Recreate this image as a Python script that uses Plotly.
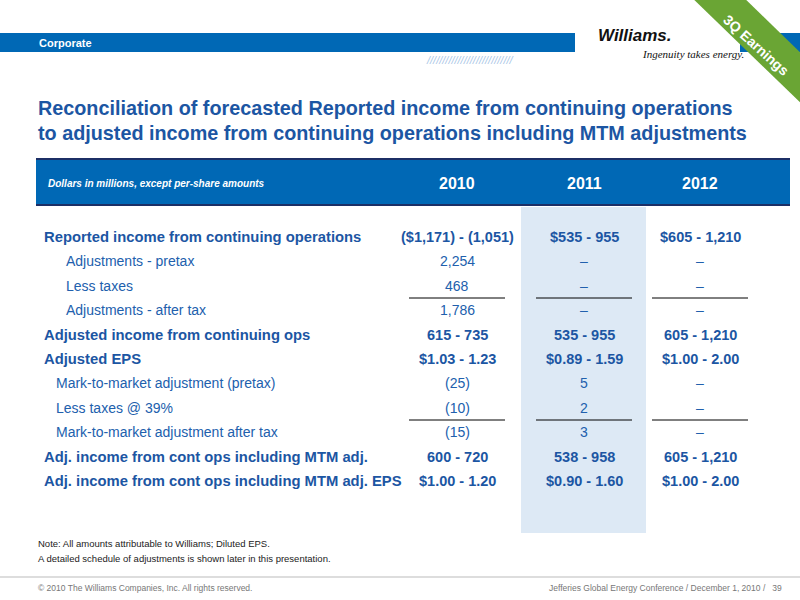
import plotly.graph_objects as go

years = ["2010", "2011", "2012"]
row_labels = [
    "Reported income from continuing operations",
    "Adjustments - pretax",
    "Less taxes",
    "Adjustments - after tax",
    "Adjusted income from continuing ops",
    "Adjusted EPS",
    "Mark-to-market adjustment (pretax)",
    "Less taxes @ 39%",
    "Mark-to-market adjustment after tax",
    "Adj. income from cont ops including MTM adj.",
    "Adj. income from cont ops including MTM adj. EPS",
]
row_bold = [True, False, False, False, True, True, False, False, False, True, True]
row_indent = [0, 22, 22, 22, 0, 0, 12, 12, 12, 0, 0]
vals_2010 = ["($1,171) - (1,051)", "2,254", "468", "1,786", "615 - 735", "$1.03 - 1.23",
             "(25)", "(10)", "(15)", "600 - 720", "$1.00 - 1.20"]
vals_2011 = ["$535 - 955", "–", "–", "–", "535 - 955", "$0.89 - 1.59",
             "5", "2", "3", "538 - 958", "$0.90 - 1.60"]
vals_2012 = ["$605 - 1,210", "–", "–", "–", "605 - 1,210", "$1.00 - 2.00",
             "–", "–", "–", "605 - 1,210", "$1.00 - 2.00"]
underline_after = [2, 7]

BLUE = "#0068b5"
DARK = "#1c56a3"
TXT = "#2160ad"
FONT = "Liberation Sans"

fig = go.Figure()
shapes = []
ann = []

def A(x, y, t, size=12, color="black", bold=False, xanchor="left", italic=False, font=FONT, **kw):
    if bold: t = f"<b>{t}</b>"
    if italic: t = f"<i>{t}</i>"
    ann.append(dict(x=x, y=y, text=t, showarrow=False, xanchor=xanchor, yanchor="middle",
                    font=dict(size=size, color=color, family=font), **kw))

# top band
shapes.append(dict(type="rect", x0=0, x1=575, y0=33, y1=52, fillcolor=BLUE, line_width=0))
shapes.append(dict(type="rect", x0=740, x1=800, y0=33, y1=52, fillcolor=BLUE, line_width=0))
A(37, 43, "Corporate", 11, "white", True)
A(470, 60, "/" * 28, 11, "#a9c6e6", xanchor="center", italic=True)
# logo
A(596, 35, "Williams.", 17, "#111", True, italic=True)
A(640, 54, "Ingenuity takes energy.", 11, "#111", italic=True, font="Liberation Serif")
shapes.append(dict(type="path", path="M 684 -10 L 736 -10 L 810 62 L 810 112 Z", fillcolor="#6aa534", line_width=0))
A(756, 45, "3Q Earnings", 14, "white", True, xanchor="center", textangle=42)

# title
A(36, 108, "Reconciliation of forecasted Reported income from continuing operations", 19.8, DARK, True)
A(36, 133, "to adjusted income from continuing operations including MTM adjustments", 19.8, DARK, True)

# header
shapes.append(dict(type="rect", x0=36, x1=790, y0=158, y1=206, fillcolor=BLUE, line_width=0))
shapes.append(dict(type="line", x0=36, x1=790, y0=159, y1=159, line=dict(color="#1c2f66", width=2)))
shapes.append(dict(type="line", x0=36, x1=790, y0=205, y1=205, line=dict(color="#1c2f66", width=2)))
A(46, 183, "Dollars in millions, except per-share amounts", 10, "white", True, italic=True)
col_x = [457, 584, 700]
for x, y in zip(col_x, years):
    A(x, 183, y, 16, "white", True, xanchor="center")

# shaded 2011 column
shapes.append(dict(type="rect", x0=521, x1=646, y0=207, y1=533, fillcolor="#dde9f5", line_width=0, layer="below"))

row_y0, row_dy = 237, 24.4
for i, lab in enumerate(row_labels):
    y = row_y0 + i * row_dy
    A(42 + row_indent[i], y, lab, 14.8 if row_bold[i] else 14, DARK if row_bold[i] else TXT, row_bold[i])
    for x, col in zip(col_x, [vals_2010, vals_2011, vals_2012]):
        A(x, y, col[i], 14.5 if row_bold[i] else 14, DARK if row_bold[i] else TXT, row_bold[i], xanchor="center")
for i in underline_after:
    y = row_y0 + (i + 0.5) * row_dy
    for x in col_x:
        shapes.append(dict(type="line", x0=x - 48, x1=x + 48, y0=y, y1=y, line=dict(color="black", width=1)))

A(36, 543, "Note: All amounts attributable to Williams; Diluted EPS.", 9.5, "#222")
A(36, 558, "A detailed schedule of adjustments is shown later in this presentation.", 9.5, "#222")
shapes.append(dict(type="line", x0=0, x1=800, y0=577, y1=577, line=dict(color="#bbbbbb", width=1)))
A(36, 588, "© 2010 The Williams Companies, Inc. All rights reserved.", 8.5, "#777")
A(784, 588, "Jefferies Global Energy Conference / December 1, 2010 /   39", 8.5, "#777", xanchor="right")

fig.update_layout(width=800, height=600, margin=dict(l=0, r=0, t=0, b=0),
                  plot_bgcolor="white", paper_bgcolor="white", shapes=shapes, annotations=ann,
                  xaxis=dict(range=[0, 800], visible=False),
                  yaxis=dict(range=[600, 0], visible=False), showlegend=False)
fig.write_html("out.html", config={"displayModeBar": False},
               post_script="document.body.style.margin='0';")
